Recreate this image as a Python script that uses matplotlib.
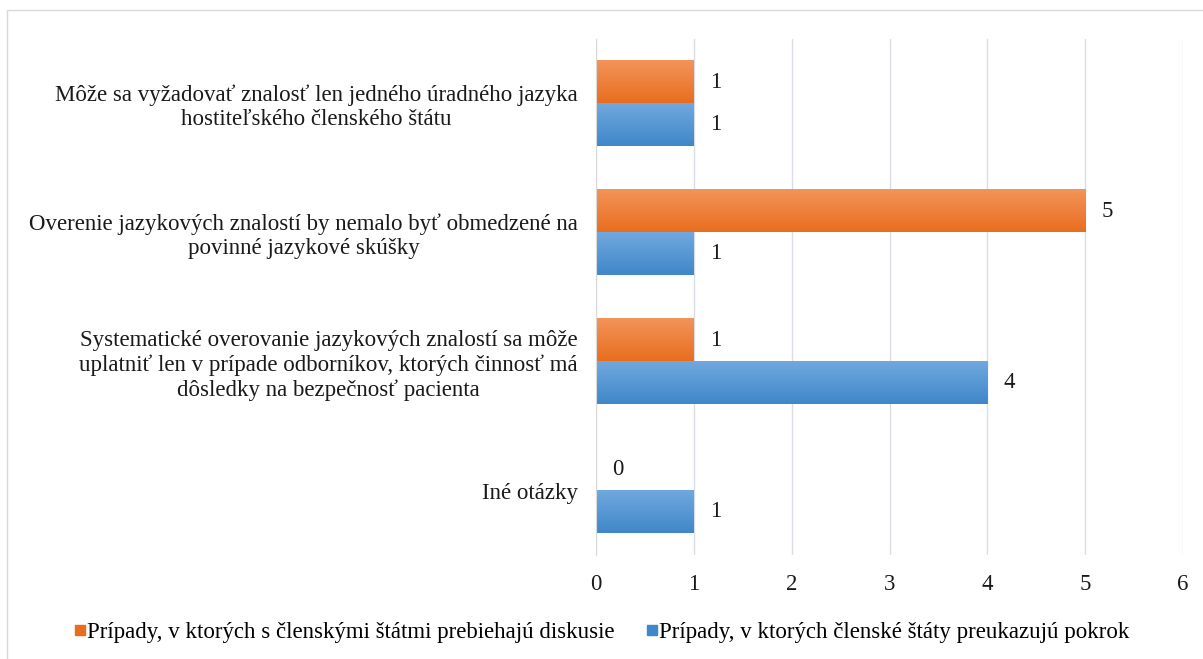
import numpy as np
import matplotlib
matplotlib.use("Agg")
import matplotlib.pyplot as plt
from matplotlib.lines import Line2D
from matplotlib.patches import Rectangle

plt.rcParams['font.family'] = ['Liberation Serif', 'DejaVu Serif']

categories = [
    "Môže sa vyžadovať znalosť len jedného úradného jazyka\nhostiteľského členského štátu",
    "Overenie jazykových znalostí by nemalo byť obmedzené na\npovinné jazykové skúšky",
    "Systematické overovanie jazykových znalostí sa môže\nuplatniť len v prípade odborníkov, ktorých činnosť má\ndôsledky na bezpečnosť pacienta",
    "Iné otázky",
]
discussions = [1, 5, 1, 0]
progress = [1, 1, 4, 1]
series_names = [
    "Prípady, v ktorých s členskými štátmi prebiehajú diskusie",
    "Prípady, v ktorých členské štáty preukazujú pokrok",
]
xticks = [0, 1, 2, 3, 4, 5, 6]

orange_top, orange_bot = np.array([0.95, 0.58, 0.35]), np.array([0.91, 0.43, 0.12])
blue_top, blue_bot = np.array([0.44, 0.66, 0.87]), np.array([0.25, 0.53, 0.79])

fs = 16.5
fig = plt.figure(figsize=(12.03, 6.59), dpi=100)
ax = fig.add_axes([596 / 1203, 1 - 555 / 659, 587 / 1203, 516 / 659])

# light frame around the chart area
fig.patches.append(Rectangle((7 / 1203, -0.1), 1.2, 1 - 10 / 659 + 0.1,
                             transform=fig.transFigure, fill=False,
                             edgecolor='#d9d9d9', linewidth=1))

y = np.arange(len(categories))
h = 0.33


def grad_bar(yc, val, ctop, cbot):
    if val <= 0:
        return
    g = np.linspace(0, 1, 64)[:, None, None]
    img = ctop * (1 - g) + cbot * g
    ax.imshow(img, extent=(0, val, yc + h / 2, yc - h / 2), aspect='auto',
              origin='upper', zorder=3, interpolation='bilinear')


for i in range(len(categories)):
    grad_bar(y[i] - h / 2, discussions[i], orange_top, orange_bot)
    grad_bar(y[i] + h / 2, progress[i], blue_top, blue_bot)
    ax.annotate(str(discussions[i]), (discussions[i], y[i] - h / 2),
                xytext=(16, 0), textcoords='offset points',
                va='center', ha='center', fontsize=fs, color='#1a1a1a')
    ax.annotate(str(progress[i]), (progress[i], y[i] + h / 2),
                xytext=(16, 0), textcoords='offset points',
                va='center', ha='center', fontsize=fs, color='#1a1a1a')

ax.set_xlim(0, 6)
ax.set_ylim(len(categories) - 0.5, -0.5)
ax.set_xticks(xticks)
ax.set_xticklabels([str(t) for t in xticks], fontsize=fs, color='#1a1a1a')
ax.set_yticks(y)
ax.set_yticklabels(categories, fontsize=fs, color='#1a1a1a',
                   multialignment='center', linespacing=1.2)
ax.tick_params(axis='both', length=0)
ax.tick_params(axis='x', pad=14)
ax.tick_params(axis='y', pad=13)
ax.grid(axis='x', color='#d9dde6', linewidth=1, zorder=0)
ax.set_axisbelow(True)
for s in ['top', 'right', 'bottom']:
    ax.spines[s].set_visible(False)
ax.spines['left'].set_color('#d9d9d9')
ax.spines['left'].set_zorder(4)

handles = [Line2D([], [], marker='s', linestyle='none', markersize=6.5,
                  color=tuple(orange_bot)),
           Line2D([], [], marker='s', linestyle='none', markersize=6.5,
                  color=tuple(blue_bot))]
fig.legend(handles, series_names, loc='center', bbox_to_anchor=(0.5, 1 - 632 / 659),
           ncol=2, frameon=False, fontsize=fs, handlelength=0.5,
           handletextpad=0.05, columnspacing=1.4)

fig.savefig("out.png", dpi=100)
